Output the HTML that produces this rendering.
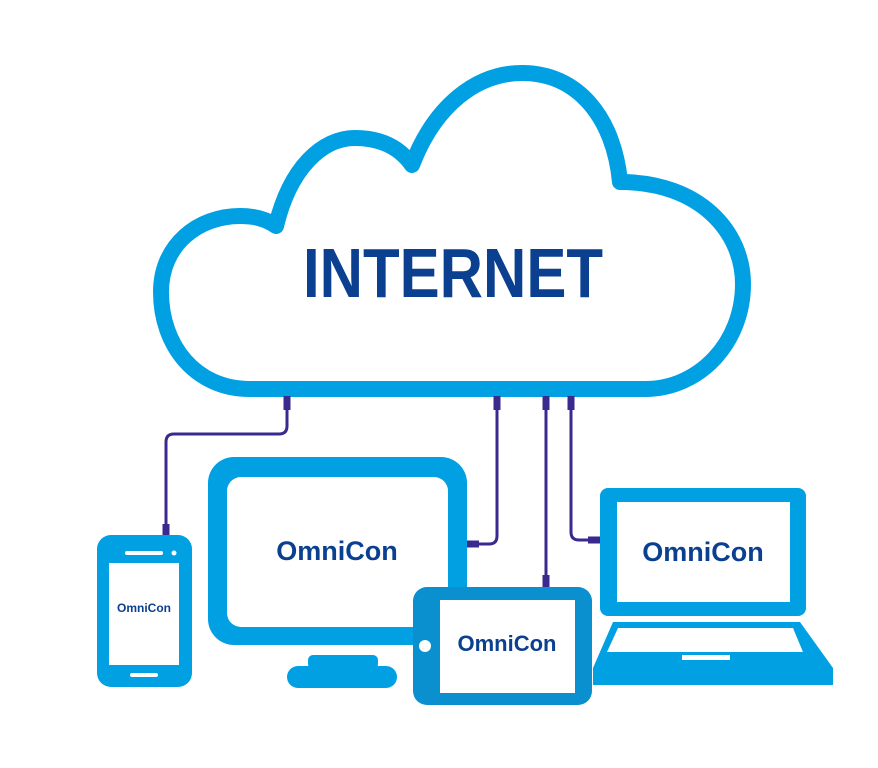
<!DOCTYPE html>
<html><head><meta charset="utf-8"><style>
html,body{margin:0;padding:0;background:#fff;}
svg{display:block;}
text{font-family:"Liberation Sans",sans-serif;font-weight:bold;fill:#0b3f8f;}
</style></head><body>
<svg width="878" height="768" viewBox="0 0 878 768" xmlns="http://www.w3.org/2000/svg">
<rect width="878" height="768" fill="#fff"/>
<!-- cloud -->
<path d="M 250 389 C 195 389 161 345 161 292 C 161 245 198 216 240 216 C 255 216 266 219 276 226
 C 290 168 322 138 355 138 C 382 138 400 148 412 165
 C 435 105 477 73 522 73 C 578 73 614 118 620 182
 C 700 182 743 232 743 284 C 743 342 700 389 645 389 Z"
 fill="#fff" stroke="#00a0e3" stroke-width="16" stroke-linejoin="round"/>
<text x="303" y="297" font-size="70" textLength="300" lengthAdjust="spacingAndGlyphs">INTERNET</text>

<!-- wires -->
<g fill="none" stroke="#3a2a8e" stroke-width="3">
<path d="M287 400 V426 Q287 434 279 434 H174 Q166 434 166 442 V535"/>
<path d="M497 400 V536 Q497 544 489 544 H470"/>
<path d="M546 400 V588"/>
<path d="M571 400 V532 Q571 540 579 540 H602"/>
</g>
<g stroke="#3a2a8e" stroke-width="7">
<line x1="287" y1="396" x2="287" y2="410"/>
<line x1="497" y1="396" x2="497" y2="410"/>
<line x1="546" y1="396" x2="546" y2="410"/>
<line x1="571" y1="396" x2="571" y2="410"/>
<line x1="166" y1="524" x2="166" y2="537"/>
<line x1="546" y1="575" x2="546" y2="589"/>
<line x1="466" y1="544" x2="479" y2="544"/>
<line x1="588" y1="540" x2="602" y2="540"/>
</g>

<!-- monitor -->
<rect x="208" y="457" width="259" height="188" rx="26" fill="#00a0e3"/>
<rect x="227" y="477" width="221" height="150" rx="14" fill="#fff"/>
<rect x="308" y="655" width="70" height="14" rx="5" fill="#00a0e3"/>
<rect x="287" y="666" width="110" height="22" rx="11" fill="#00a0e3"/>
<text x="337" y="560" font-size="27" text-anchor="middle">OmniCon</text>

<!-- phone -->
<rect x="97" y="535" width="95" height="152" rx="14" fill="#00a0e3"/>
<rect x="109" y="563" width="70" height="102" fill="#fff"/>
<rect x="125" y="551" width="38" height="4" rx="2" fill="#fff"/>
<circle cx="174" cy="553" r="2.5" fill="#fff"/>
<rect x="130" y="673" width="28" height="4" rx="2" fill="#fff"/>
<text x="144" y="612" font-size="12" text-anchor="middle">OmniCon</text>

<!-- laptop -->
<rect x="600" y="488" width="206" height="128" rx="8" fill="#00a0e3"/>
<rect x="617" y="502" width="173" height="100" fill="#fff"/>
<text x="703" y="561" font-size="27" text-anchor="middle">OmniCon</text>
<polygon points="613,622 800,622 833,668 833,685 593,685 593,668" fill="#00a0e3"/>
<polygon points="618,628 793,628 803,652 607,652" fill="#fff"/>
<rect x="682" y="655" width="48" height="5" fill="#fff"/>

<!-- tablet -->
<rect x="413" y="587" width="179" height="118" rx="14" fill="#0a8fcf"/>
<rect x="440" y="600" width="135" height="93" fill="#fff"/>
<circle cx="425" cy="646" r="6" fill="#fff"/>
<text x="507" y="651" font-size="22" text-anchor="middle">OmniCon</text>
</svg>
</body></html>
